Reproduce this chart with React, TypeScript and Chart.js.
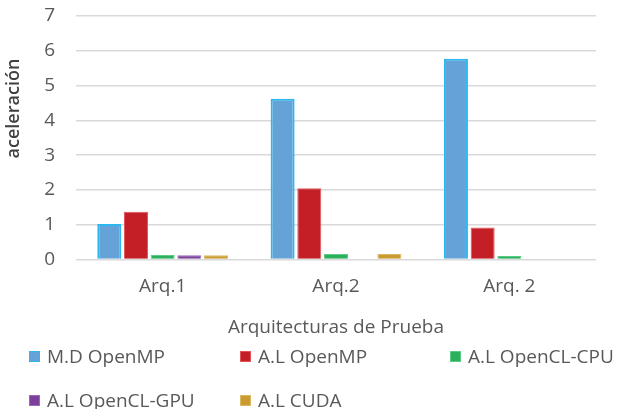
import React, { useEffect, useRef } from "react";
import { Chart, registerables } from "chart.js";

Chart.register(...registerables);

const categories = ["Arq.1", "Arq.2", "Arq. 2"];
const seriesNames = ["M.D OpenMP", "A.L OpenMP", "A.L OpenCL-CPU", "A.L OpenCL-GPU", "A.L CUDA"];
const mdOpenMP = [1.02, 4.62, 5.77];
const alOpenMP = [1.37, 2.05, 0.92];
const alOpenCLCPU = [0.13, 0.16, 0.1];
const alOpenCLGPU = [0.12, 0, 0];
const alCUDA = [0.12, 0.16, 0];
const fills = ["#64A2D8", "#C41F26", "#2BB15C", "#7C3F9C", "#C99B31"];
const borders = ["#2CB8EE", "#E0555A", "#5CCB86", "#9C6BB8", "#DDB860"];
const yTicks = [0, 1, 2, 3, 4, 5, 6, 7];
const yTitle = "aceleración";
const xTitle = "Arquitecturas de Prueba";

const FONT = "'Open Sans', 'Noto Sans', sans-serif";

export default function App() {
  const ref = useRef<HTMLCanvasElement | null>(null);

  useEffect(() => {
    if (!ref.current) return;
    const values = [mdOpenMP, alOpenMP, alOpenCLCPU, alOpenCLGPU, alCUDA];
    const yTitlePlugin = {
      id: "yTitlePlugin",
      afterDraw(chart: any) {
        const { ctx, chartArea } = chart;
        ctx.save();
        ctx.font = `600 18px ${FONT}`;
        ctx.fillStyle = "#404040";
        ctx.textAlign = "center";
        ctx.textBaseline = "middle";
        const y = chartArea.top + (chartArea.bottom - chartArea.top) * 0.38;
        ctx.translate(14, y);
        ctx.rotate(-Math.PI / 2);
        ctx.fillText(yTitle, 0, 0);
        ctx.restore();
      },
    };
    const chart = new Chart(ref.current, {
      type: "bar",
      data: {
        labels: categories,
        datasets: seriesNames.map((name, i) => ({
          label: name,
          data: values[i],
          backgroundColor: fills[i],
          borderColor: borders[i],
          borderWidth: i === 0 ? 2 : 1,
          categoryPercentage: 0.77,
          barPercentage: 0.9,
        })),
      },
      options: {
        responsive: false,
        animation: false,
        layout: { padding: { left: 0, right: 34, top: 16, bottom: 70 } },
        plugins: {
          legend: { display: false },
          tooltip: { enabled: false },
          title: { display: false },
        },
        scales: {
          x: {
            grid: { display: false, drawTicks: false },
            border: { display: false },
            ticks: {
              color: "#595959",
              font: { family: FONT, size: 19 },
              padding: 16,
            },
            title: {
              display: true,
              text: xTitle,
              color: "#595959",
              font: { family: FONT, size: 19 },
              padding: 0,
            },
            afterFit: (scale: any) => {
              scale.height = 79.5;
              scale.paddingLeft = 0;
              scale.paddingRight = 0;
            },
          },
          y: {
            min: 0,
            max: 7,
            afterBuildTicks: (scale: any) => {
              scale.ticks = yTicks.map((v) => ({ value: v }));
            },
            grid: { color: "#D9D9D9", lineWidth: 1.5, drawTicks: false },
            border: { display: false },
            ticks: {
              color: "#595959",
              font: { family: FONT, size: 19 },
              padding: 21,
            },
            afterFit: (scale: any) => {
              scale.width = 76;
              scale.paddingTop = 0;
              scale.paddingBottom = 0;
            },
          },
        },
      },
      plugins: [yTitlePlugin],
    });
    return () => chart.destroy();
  }, []);

  return (
    <div
      style={{
        position: "fixed",
        left: 0,
        top: 0,
        width: 630,
        height: 409,
        overflow: "hidden",
        background: "#ffffff",
      }}
    >
      <canvas ref={ref} width={630} height={409} style={{ display: "block" }} />
      <div
        style={{
          position: "absolute",
          left: 29,
          top: 345,
          display: "grid",
          gridTemplateColumns: "211px 210px 200px",
          rowGap: 22,
          fontFamily: FONT,
          fontSize: 19,
          color: "#595959",
        }}
      >
        {seriesNames.map((name, i) => (
          <div key={name} style={{ display: "flex", alignItems: "center", height: 22, whiteSpace: "nowrap" }}>
            <span
              style={{
                display: "inline-block",
                width: 9,
                height: 9,
                background: fills[i],
                border: `1px solid ${borders[i]}`,
                marginRight: 7,
              }}
            />
            <span>{name}</span>
          </div>
        ))}
      </div>
    </div>
  );
}
